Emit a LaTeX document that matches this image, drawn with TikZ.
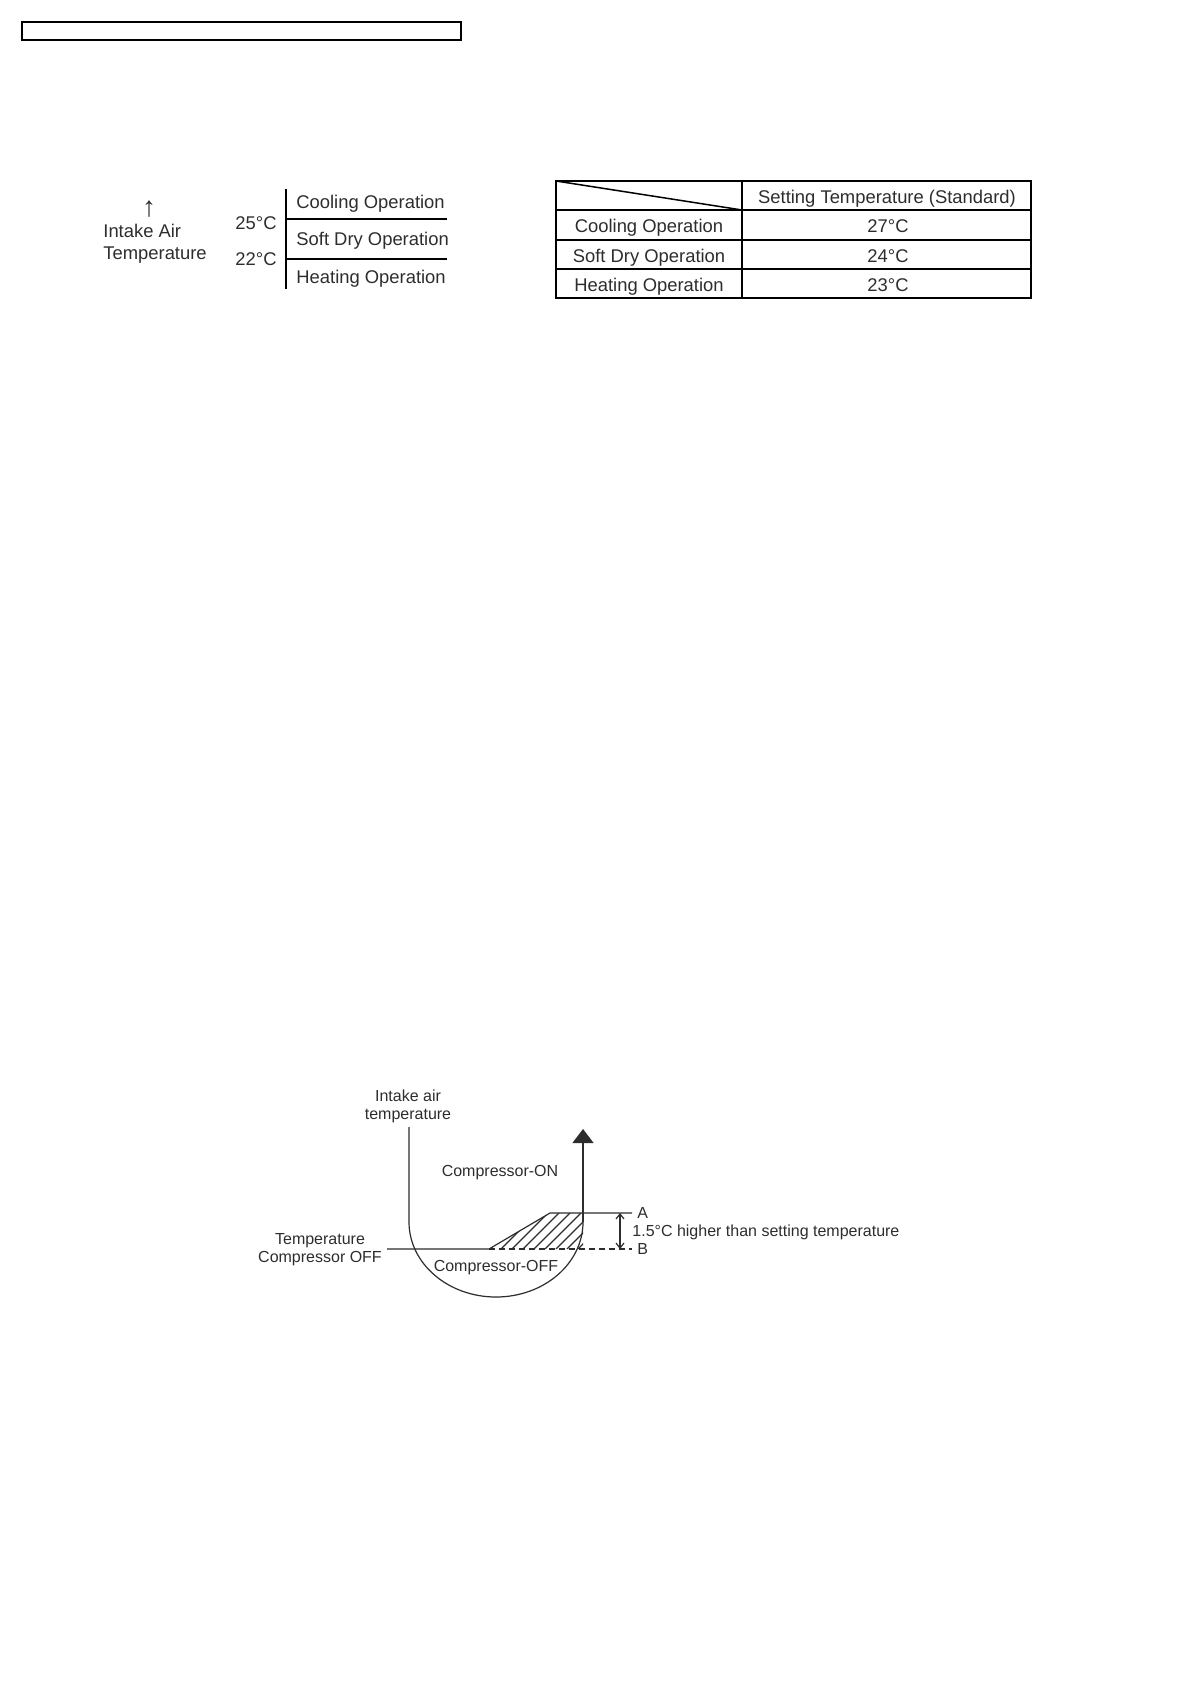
\documentclass[tikz,border=0pt]{standalone}
\usepackage{fontspec}
\setmainfont{Liberation Sans}
\usepackage{tikz}
\usetikzlibrary{arrows.meta, positioning, calc}
\definecolor{inkgray}{RGB}{45, 45, 45}

\begin{document}
\begin{tikzpicture}[x=0.5pt, y=-0.5pt, >={Straight Barb[length=2.5pt,width=4pt]},
    txt/.style={inner sep=0pt, text=inkgray, font=\fontsize{9.2}{11}\selectfont},
    small/.style={inner sep=0pt, text=inkgray, font=\fontsize{8}{9.4}\selectfont},
    rule/.style={line width=0.75pt},
    fine/.style={line width=0.6pt, inkgray}]
    \useasboundingbox (0,0) rectangle (1190,1684);
    \draw[line width=0.7pt] (22,22) rectangle (461,40);

    % temperature ranges
    \node[txt, font=\fontsize{14}{14}\selectfont] (up) at (149,209) {↑};
    \node[txt, anchor=base west] (intake) at (103,237.5) {Intake Air};
    \node[txt, anchor=base west] (intaketemp) at (103,259.5) {Temperature};
    \node[txt, anchor=base east] (t25) at (277,229.5) {25°C};
    \node[txt, anchor=base east] (t22) at (277,265.5) {22°C};
    \draw[rule] (286,189) -- (286,289);
    \draw[rule] (286,219) -- (447,219);
    \draw[rule] (286,259) -- (447,259);
    \node[txt, anchor=base west] (cool) at (296,208.5) {Cooling Operation};
    \node[txt, anchor=base west] (dry) at (296,245.5) {Soft Dry Operation};
    \node[txt, anchor=base west] (heat) at (296,283.5) {Heating Operation};

    % setting table
    \draw[rule] (556,181) rectangle (1031,298);
    \draw[rule] (742,181) -- (742,298);
    \foreach \y in {210,240,269}
        \draw[rule] (556,\y) -- (1031,\y);
    \draw[rule] (556,181) -- (742,210);
    \node[txt, anchor=base] (head) at (887,203.5) {Setting Temperature (Standard)};
    \node[txt, anchor=base] (rcool) at (649,233) {Cooling Operation};
    \node[txt, anchor=base] (rdry) at (649,262.5) {Soft Dry Operation};
    \node[txt, anchor=base] (rheat) at (649,291.5) {Heating Operation};
    \node[txt, anchor=base] (vcool) at (888,233) {27°C};
    \node[txt, anchor=base] (vdry) at (888,262.5) {24°C};
    \node[txt, anchor=base] (vheat) at (888,291.5) {23°C};

    % compressor on/off curve
    \node[small, anchor=base] (axis1) at (408,1101) {Intake air};
    \node[small, anchor=base] (axis2) at (408,1119) {temperature};
    \coordinate (ltop) at (409,1127);
    \coordinate (lbend) at (409,1222);
    \coordinate (rbend) at (583,1222);
    \coordinate (rtip) at (583,1129);
    \draw[fine] (ltop) -- (lbend) arc[start angle=180, end angle=360, x radius=43.5pt, y radius=37.5pt];
    \draw[fine, -{Triangle[length=7pt,width=10.5pt]}] (rbend) -- (rtip);
    \begin{scope}
        \clip (489,1249) -- (550,1213) -- (583,1213) -- (583,1249) -- cycle;
        \foreach \x in {446,457,...,590}
            \draw[fine] (\x,1249) -- ++(36,-36);
    \end{scope}
    \draw[fine] (387,1249) -- (489,1249) -- (550,1213) -- (632,1213);
    \draw[fine, dashed, dash pattern=on 3pt off 2pt] (489,1249) -- (632,1249);
    \coordinate (lvA) at (620,1213);
    \coordinate (lvB) at (620,1249);
    \draw[fine, <->] (lvA) -- (lvB);
    \node[small, anchor=base] (on) at (500,1176) {Compressor-ON};
    \node[small, anchor=base] (off) at (496,1271) {Compressor-OFF};
    \node[small, anchor=base] (offa) at (320,1244.5) {Temperature};
    \node[small, anchor=base] (offb) at (320,1262.5) {Compressor OFF};
    \node[small, anchor=base west] (pa) at (637,1218) {A};
    \node[small, anchor=base west] (pb) at (637,1254.5) {B};
    \node[small, anchor=base west] (diff) at (632,1236) {1.5°C higher than setting temperature};
\end{tikzpicture}
\end{document}
